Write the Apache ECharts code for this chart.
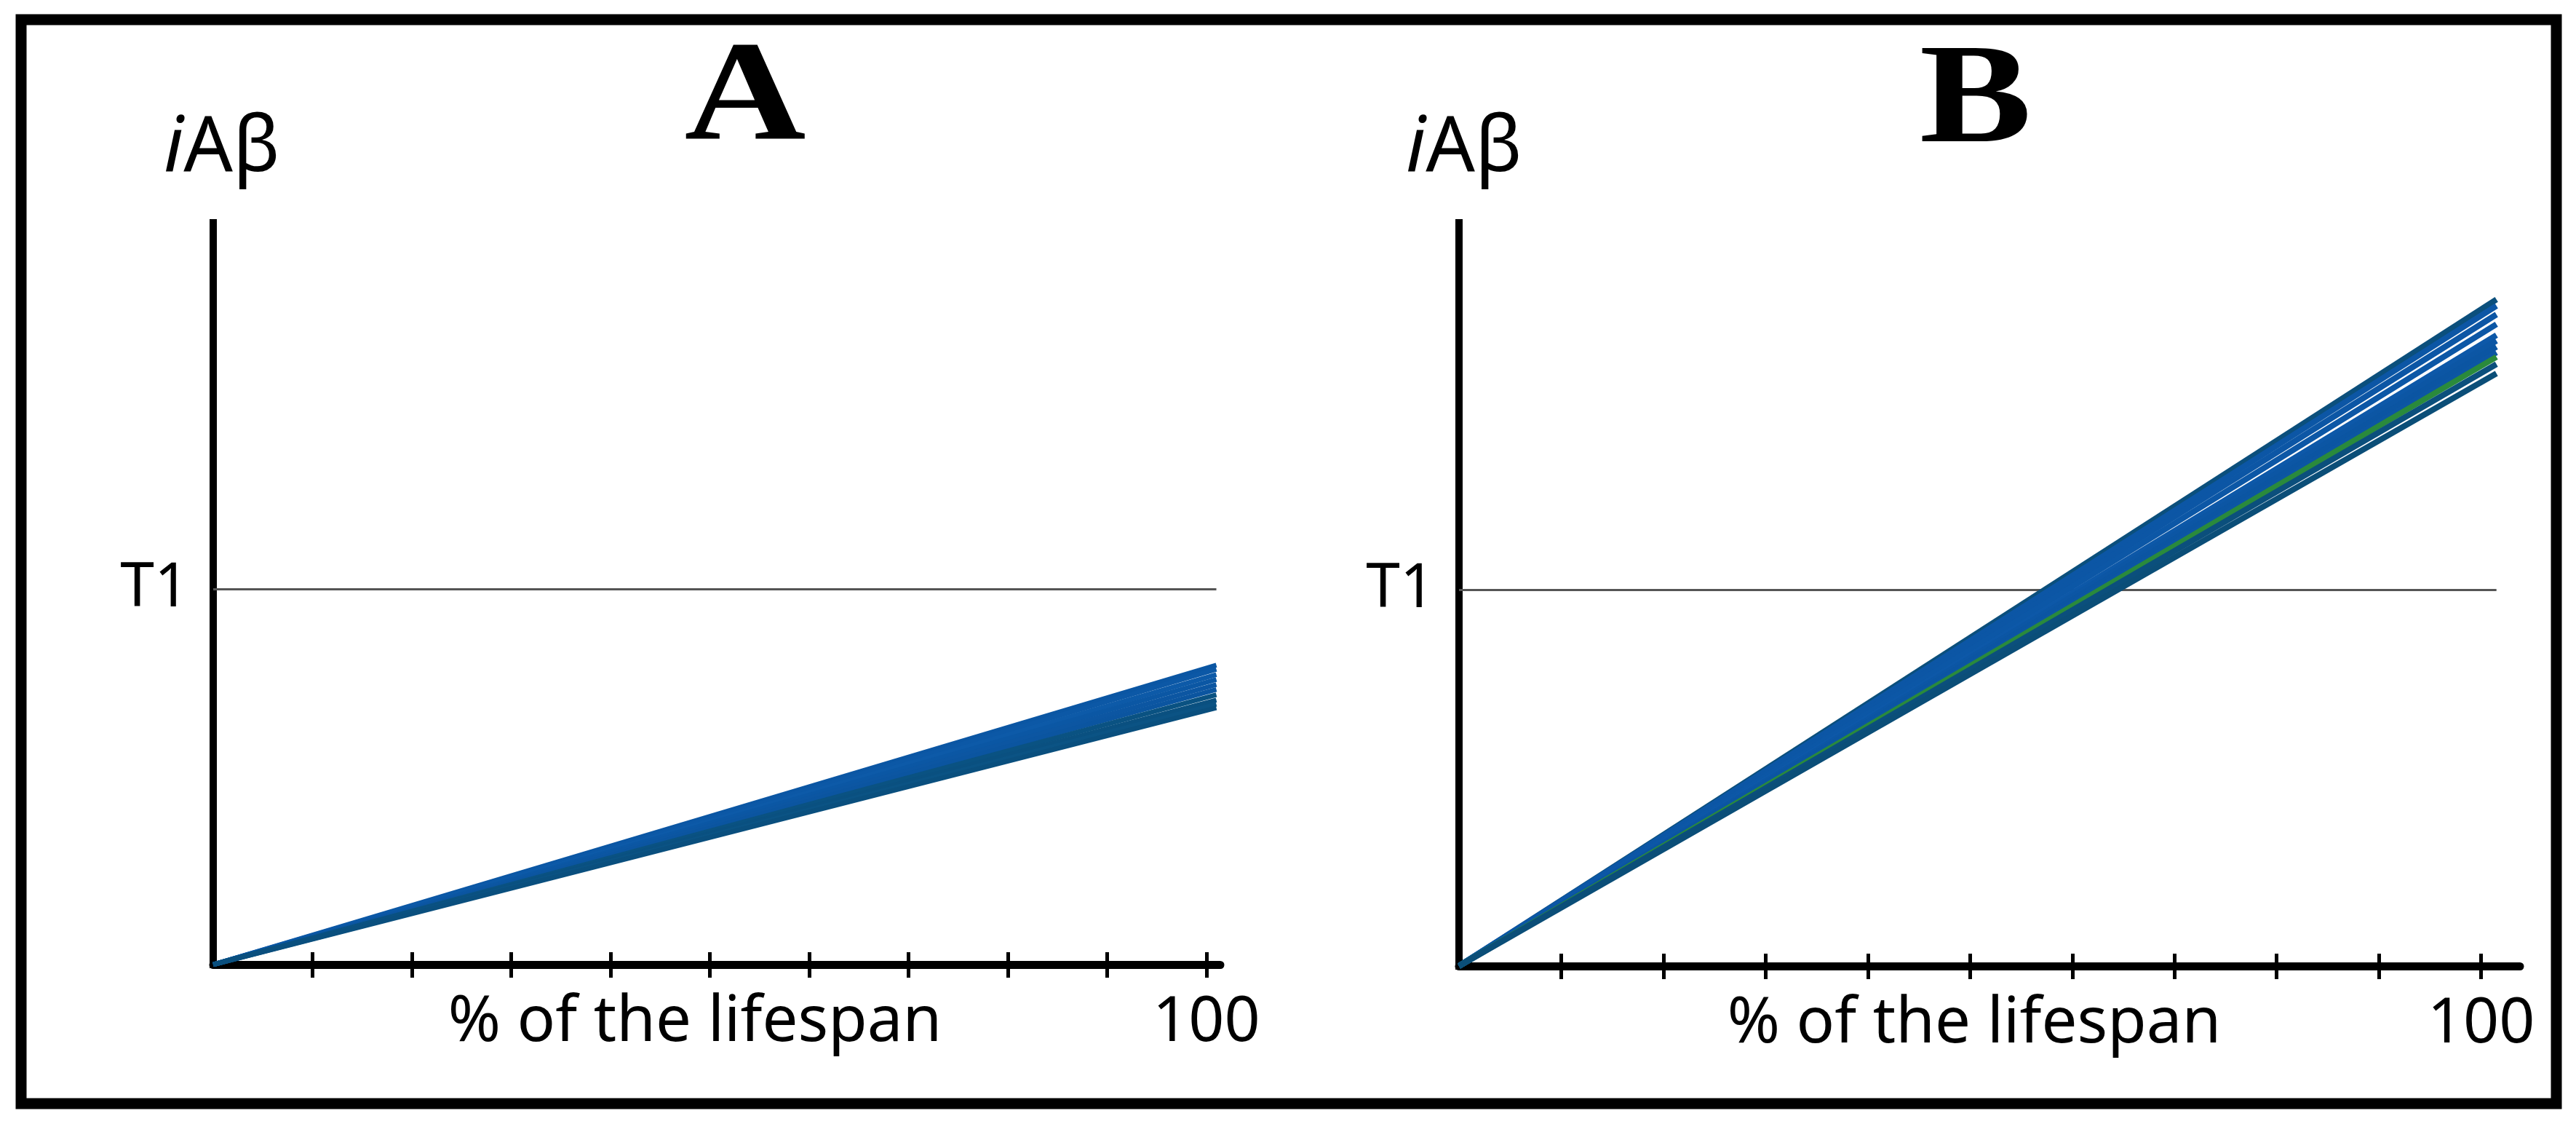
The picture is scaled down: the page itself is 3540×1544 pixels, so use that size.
<!DOCTYPE html>
<html>
<head>
<meta charset="utf-8">
<script src="https://cdn.jsdelivr.net/npm/echarts@6/dist/echarts.min.js"></script>
<style>
html,body{margin:0;padding:0;background:#fff;}
#c{width:3540px;height:1544px;}
</style>
</head>
<body>
<div id="c"></div>
<script>
// ---- data ----
const panelTitles = ['A', 'B'];
const yAxisTitle = 'iAβ';
const xAxisTitle = '% of the lifespan';
const thresholdName = 'T1';
const thresholdValue = 1;
const yAxisMax = 1.977;
const xTickValues = [10, 20, 30, 40, 50, 60, 70, 80, 90, 100];
const xLabelValues = [100];
const lineStart = [0, 0];
const lineEndXA = 101;
const lineEndXB = 101.5;
// iAβ reached at the end of the lifespan, one value per simulated line
const endValuesA = [0.798, 0.787, 0.773, 0.760, 0.746, 0.733, 0.719, 0.705, 0.694, 0.684];
const endValuesB = [1.773, 1.756, 1.733, 1.707, 1.678, 1.663, 1.647, 1.632, 1.620, 1.601, 1.576];

// ---- styles ----
const colorsA = ['#0b56a3', '#0c58a6', '#0d5aa8', '#0b57a4', '#0c56a2', '#0b55a0', '#0a5282', '#0a5080', '#0b5384', '#0a4f7e'];
const colorsB = ['#0b4f7c', '#0c56a5', '#0c56a5', '#0c57a6', '#0d58a8', '#0c56a4', '#0b55a2', '#0c56a3', '#2a8a3c', '#0b4f7c', '#0b4e78'];
const FONT = '"Noto Sans", "Open Sans", sans-serif';

const chart = echarts.init(document.getElementById('c'), null, {renderer: 'canvas'});

function xAxes(gridIndex, max, namePad) {
  const common = {
    type: 'value', gridIndex: gridIndex, min: 0, max: max, interval: 10,
    position: 'bottom', splitLine: {show: false}
  };
  return [
    Object.assign({}, common, {
      name: xAxisTitle, nameLocation: 'middle', nameGap: 80, nameMoveOverlap: false,
      nameTextStyle: {fontFamily: FONT, fontSize: 87, color: '#000', verticalAlign: 'middle', padding: namePad},
      axisLine: {show: true, lineStyle: {color: '#000', width: 11}},
      axisTick: {show: false},
      axisLabel: {show: true, customValues: xLabelValues, fontFamily: FONT, fontSize: 86, color: '#000', margin: 80, verticalAlign: 'middle'}
    }),
    Object.assign({}, common, {
      offset: -17,
      axisLine: {show: false},
      axisTick: {show: true, customValues: xTickValues, length: 35, lineStyle: {color: '#000', width: 5}},
      axisLabel: {show: false}
    })
  ];
}

function yAxis(gridIndex, namePad) {
  return {
    type: 'value', gridIndex: gridIndex, min: 0, max: yAxisMax,
    name: '{i|i}Aβ', nameLocation: 'end', nameGap: 101,
    nameTextStyle: {fontFamily: FONT, fontSize: 106, color: '#000', verticalAlign: 'middle', padding: namePad,
      rich: {i: {fontFamily: FONT, fontSize: 106, fontStyle: 'italic', color: '#000'}}},
    splitLine: {show: false},
    axisLine: {show: true, lineStyle: {color: '#000', width: 10, cap: 'square'}},
    axisTick: {show: false},
    axisLabel: {show: true, customValues: [thresholdValue], formatter: function () { return thresholdName; },
      fontFamily: FONT, fontSize: 84, color: '#000', margin: 33}
  };
}

const series = [];
function addPanel(gridIndex, endX, endValues, colors, width) {
  series.push({
    type: 'line', xAxisIndex: gridIndex * 2, yAxisIndex: gridIndex, silent: true,
    data: [[0, thresholdValue], [endX, thresholdValue]], showSymbol: false, symbol: 'none',
    lineStyle: {color: '#555', width: 3}, z: 1
  });
  endValues.forEach(function (v, i) {
    series.push({
      type: 'line', xAxisIndex: gridIndex * 2, yAxisIndex: gridIndex, silent: true,
      data: [lineStart, [endX, v]], showSymbol: false, symbol: 'none',
      lineStyle: {color: colors[i], width: width, cap: 'butt'}, z: 3
    });
  });
}
addPanel(0, lineEndXA, endValuesA, colorsA, 6.5);
addPanel(1, lineEndXB, endValuesB, colorsB, 8);

chart.setOption({
  animation: false,
  backgroundColor: '#fff',
  grid: [
    {left: 293, right: 3540 - 1677, top: 306, bottom: 1544 - 1325},
    {left: 2005, right: 3540 - 3463, top: 306, bottom: 1544 - 1327}
  ],
  xAxis: xAxes(0, 101.4, [0, 60, 0, 0]).concat(xAxes(1, 103.8, [0, 42, 0, 0])),
  yAxis: [yAxis(0, [0, 0, 0, 24]), yAxis(1, [0, 0, 0, 14])],
  series: series,
  graphic: [
    {type: 'rect', silent: true, z: 10,
      shape: {x: 29, y: 27, width: 3484, height: 1489},
      style: {fill: null, stroke: '#000', lineWidth: 15}},
    {type: 'text', silent: true, z: 10, x: 1024, y: 140, scaleX: 1.18,
      style: {text: panelTitles[0], x: 0, y: 0, align: 'center', verticalAlign: 'middle',
        font: 'bold 196px "Liberation Serif", "DejaVu Serif", serif', fill: '#000'}},
    {type: 'text', silent: true, z: 10, x: 2715, y: 143, scaleX: 1.18,
      style: {text: panelTitles[1], x: 0, y: 0, align: 'center', verticalAlign: 'middle',
        font: 'bold 196px "Liberation Serif", "DejaVu Serif", serif', fill: '#000'}}
  ]
});
</script>
</body>
</html>
